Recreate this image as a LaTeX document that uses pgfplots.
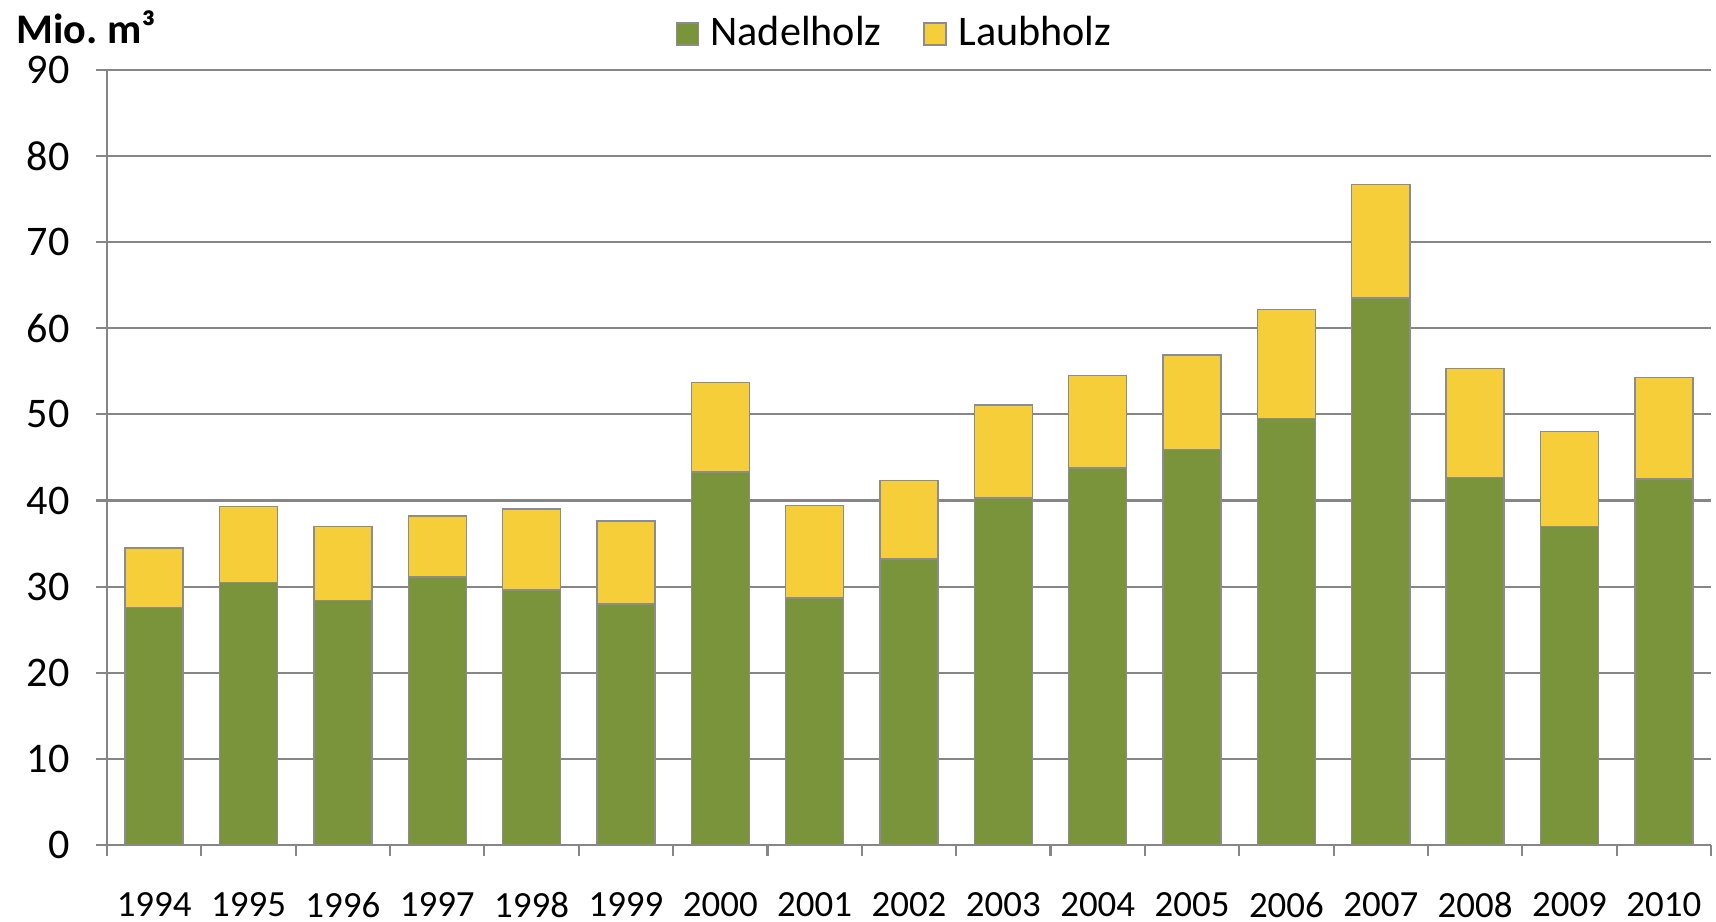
\documentclass[border=0pt]{standalone}
\usepackage{fontspec}
\setmainfont{Carlito}
\usepackage{pgfplots}
\pgfplotsset{compat=1.18}
\definecolor{nadel}{RGB}{122,148,60}
\definecolor{laub}{RGB}{246,206,58}
\definecolor{gridgray}{RGB}{134,134,134}
\definecolor{edgegray}{RGB}{140,140,140}
\begin{document}
\begin{tikzpicture}
\begin{axis}[
  scale only axis, width=16.04cm, height=7.75cm,
  ybar stacked, bar width=0.615,
  xmin=-0.5, xmax=16.5, ymin=0, ymax=90,
  ytick={0,10,...,90},
  xtick={-0.5,0.5,...,16.5},
  xticklabels={},
  extra x ticks={0,1,...,16},
  extra x tick labels={1994,1995,1996,1997,1998,1999,2000,2001,2002,2003,2004,2005,2006,2007,2008,2009,2010},
  extra x tick style={major tick length=0pt, tick style={draw=none}, xticklabel style={yshift=-3.5mm}},
  xticklabel style={font=\fontsize{10.5}{12}\selectfont},
  yticklabel style={font=\fontsize{12}{14}\selectfont, xshift=-1.4mm},
  /pgf/number format/assume math mode=true,
  ymajorgrids, grid style={gridgray, line width=0.6pt},
  axis x line*=bottom, axis y line*=left,
  axis line style={gridgray, line width=0.6pt},
  tick align=outside,
  major tick length=3.1pt,
  tick style={gridgray, line width=0.6pt},
  legend style={at={(0.4925,1)}, anchor=center, yshift=3.6mm, draw=none, fill=none,
    legend columns=2, font=\fontsize{12}{14}\selectfont,
    /tikz/every even column/.append style={column sep=3.5mm}},
  legend image code/.code={\draw[#1, draw=edgegray, line width=0.4pt] (0cm,-1.1mm) rectangle (2.2mm,1.1mm); \path (2.65mm,0);},
]
\addplot[fill=nadel, draw=edgegray, line width=0.4pt] coordinates {
(0,27.6)(1,30.5)(2,28.4)(3,31.1)(4,29.6)(5,28.0)(6,43.3)(7,28.7)(8,33.2)(9,40.3)(10,43.8)(11,45.9)(12,49.5)(13,63.5)(14,42.7)(15,37.0)(16,42.5)};
\addplot[fill=laub, draw=edgegray, line width=0.4pt] coordinates {
(0,6.9)(1,8.8)(2,8.6)(3,7.1)(4,9.4)(5,9.6)(6,10.4)(7,10.7)(8,9.1)(9,10.8)(10,10.7)(11,11.0)(12,12.7)(13,13.2)(14,12.6)(15,11.0)(16,11.8)};
\legend{Nadelholz, Laubholz}
\coordinate (bl) at (rel axis cs:0,0);
\coordinate (tr) at (rel axis cs:1,1);
\coordinate (tl) at (rel axis cs:0,1);
\end{axis}
\node[anchor=west, font=\bfseries\fontsize{12}{14}\selectfont, inner sep=0pt] at ([xshift=-9.1mm, yshift=4.3mm]tl) {Mio.\ m³};
\pgfresetboundingbox
\path ([xshift=-10.7mm, yshift=-7.7mm]bl) rectangle ([xshift=0.5mm, yshift=7.0mm]tr);
\end{tikzpicture}
\end{document}
